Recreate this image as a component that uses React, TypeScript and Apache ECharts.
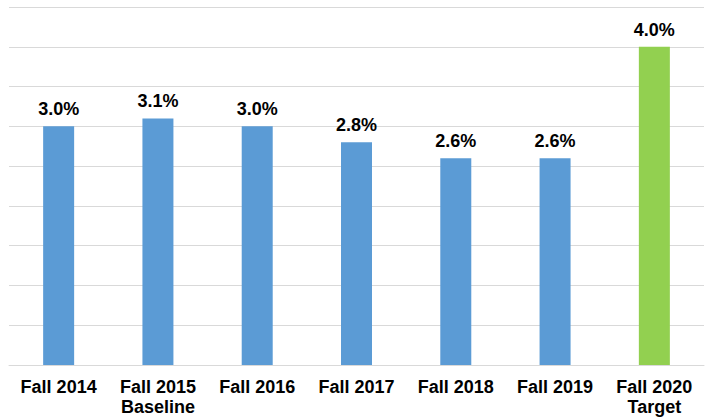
import React, { useEffect, useRef } from "react";
import * as echarts from "echarts";

const categories = [
  "Fall 2014",
  "Fall 2015\nBaseline",
  "Fall 2016",
  "Fall 2017",
  "Fall 2018",
  "Fall 2019",
  "Fall 2020\nTarget",
];
const values = [3.0, 3.1, 3.0, 2.8, 2.6, 2.6, 4.0];
const isTarget = [false, false, false, false, false, false, true];

const BLUE = "#5B9BD5";
const GREEN = "#92D050";

export default function App() {
  const ref = useRef<HTMLDivElement>(null);
  useEffect(() => {
    if (!ref.current) return;
    const chart = echarts.init(ref.current, null, { renderer: "svg" });
    chart.setOption({
      animation: false,
      backgroundColor: "#ffffff",
      grid: { left: 9, right: 6, top: 7, bottom: 53, containLabel: false },
      xAxis: {
        type: "category",
        data: categories,
        axisLine: { lineStyle: { color: "#d9d9d9", width: 1 } },
        axisTick: { show: false },
        axisLabel: {
          color: "#000000",
          fontFamily: "Liberation Sans, Arial, sans-serif",
          fontWeight: "bold",
          fontSize: 18,
          lineHeight: 20,
          margin: 12,
          interval: 0,
        },
      },
      yAxis: {
        type: "value",
        min: 0,
        max: 4.5,
        interval: 0.5,
        axisLabel: { show: false },
        axisLine: { show: false },
        axisTick: { show: false },
        splitLine: { lineStyle: { color: "#d9d9d9", width: 1 } },
      },
      series: [
        {
          type: "bar",
          barWidth: 31,
          data: values.map((v, i) => ({
            value: v,
            itemStyle: { color: isTarget[i] ? GREEN : BLUE },
          })),
          label: {
            show: true,
            position: "top",
            distance: 8,
            color: "#000000",
            fontFamily: "Liberation Sans, Arial, sans-serif",
            fontWeight: "bold",
            fontSize: 18,
            formatter: (p: any) => p.value.toFixed(1) + "%",
          },
        },
      ],
    });
    return () => chart.dispose();
  }, []);
  return (
    <div
      ref={ref}
      style={{ position: "fixed", left: 0, top: 0, width: 710, height: 418 }}
    />
  );
}
